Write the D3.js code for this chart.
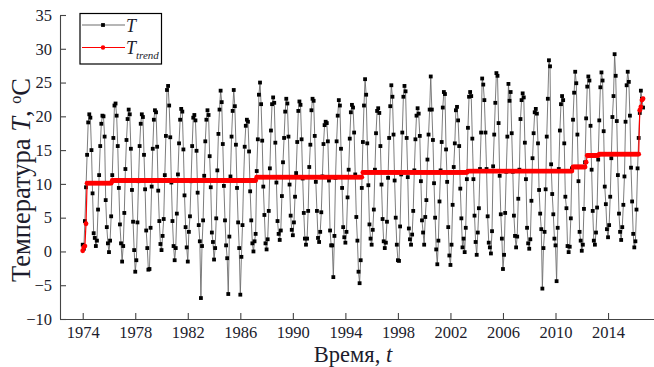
<!DOCTYPE html>
<html><head><meta charset="utf-8">
<script src="https://cdn.jsdelivr.net/npm/d3@7"></script>
<style>html,body{margin:0;padding:0;background:#fff;} svg{display:block;}</style>
</head><body><svg id="chart" width="654" height="367"></svg>
<script>
// ---- data ----
const xTicks = [1974, 1978, 1982, 1986, 1990, 1994, 1998, 2002, 2006, 2010, 2014];
const yTicks = [-10, -5, 0, 5, 10, 15, 20, 25, 30, 35];
const startYear = 1974; // monthly series starting January 1974
const tValues = [
  1.0, 0.4, 4.5, 9.5, 14.3, 19.1, 20.3, 19.8, 15.0, 8.6, 2.7, 2.0,      // 1974
  0.8, 1.6, 6.2, 11.3, 15.6, 18.9, 20.1, 20.0, 17.0, 7.6, 3.6, 1.2,     // 1975
  -0.1, 1.6, 5.2, 11.3, 16.8, 21.6, 21.9, 20.1, 15.6, 9.4, 4.0, 1.2,    // 1976
  -1.5, 0.8, 5.7, 12.2, 16.5, 19.6, 21.0, 20.3, 15.2, 9.1, 4.4, 0.2,    // 1977
  -3.0, -1.3, 4.3, 10.4, 15.6, 18.9, 20.3, 19.9, 14.3, 9.2, 3.1, 0.5,   // 1978
  -2.7, -2.6, 3.5, 9.6, 15.2, 19.5, 20.9, 20.6, 15.5, 9.0, 4.5, 1.1,    // 1979
  0.2, 2.3, 4.8, 11.3, 17.1, 23.9, 24.5, 21.6, 16.9, 10.2, 4.5, 0.8,    // 1980
  -1.3, 0.5, 5.6, 11.4, 16.0, 19.5, 21.1, 20.7, 15.1, 8.3, 3.6, 0.6,    // 1981
  -1.5, 2.9, 5.2, 10.4, 15.6, 19.8, 20.2, 19.4, 14.9, 8.7, 3.9, 1.5,    // 1982
  -6.9, 0.8, 4.6, 11.2, 16.3, 19.5, 20.9, 20.2, 14.1, 9.5, 2.8, 1.4,    // 1983
  -1.2, 0.5, 4.9, 12.0, 17.4, 21.0, 23.8, 22.1, 15.9, 9.7, 4.6, 0.9,    // 1984
  -1.0, -6.3, 2.2, 11.1, 17.0, 20.8, 23.9, 21.5, 15.8, 9.4, 4.3, 0.5,   // 1985
  -6.4, -0.8, 3.9, 10.5, 15.5, 18.6, 19.5, 19.2, 14.8, 8.9, 4.6, 1.2,   // 1986
  0.0, 1.5, 2.6, 11.9, 16.6, 23.2, 25.0, 21.8, 16.4, 9.6, 5.4, 1.2,     // 1987
  0.3, 1.8, 6.0, 12.3, 17.9, 21.8, 22.8, 22.0, 16.1, 10.2, 4.5, 2.6,    // 1988
  1.7, 3.1, 8.2, 13.2, 16.8, 20.7, 22.6, 21.9, 17.0, 9.9, 5.3, 3.2,     // 1989
  2.4, 4.3, 8.1, 11.6, 16.2, 20.8, 22.2, 21.7, 16.6, 10.8, 5.7, 1.9,    // 1990
  1.0, 1.9, 6.0, 12.5, 15.8, 20.9, 22.6, 22.3, 17.1, 10.3, 6.0, 2.0,    // 1991
  1.4, 2.9, 5.8, 11.1, 15.9, 18.7, 19.2, 19.0, 16.3, 10.5, 3.1, 0.9,    // 1992
  0.9, -3.8, 2.3, 10.9, 16.3, 20.1, 22.4, 21.6, 15.2, 9.4, 3.6, 2.1,    // 1993
  1.3, 2.9, 8.0, 12.1, 16.7, 20.6, 21.7, 21.3, 17.6, 11.4, 5.1, 1.6,    // 1994
  -3.0, -4.7, -1.3, 9.4, 16.2, 21.6, 25.5, 23.2, 16.0, 9.8, 4.0, 1.9,   // 1995
  1.0, 3.2, 6.2, 12.1, 17.5, 20.8, 21.2, 20.5, 15.6, 9.9, 4.8, 1.5,     // 1996
  0.5, 1.3, 4.4, 10.9, 16.8, 21.5, 24.6, 22.9, 17.3, 10.5, 5.0, 1.0,    // 1997
  -1.3, -1.4, 3.7, 11.4, 17.6, 22.9, 24.5, 23.7, 16.8, 11.0, 3.4, 1.8,  // 1998
  1.0, 2.5, 6.0, 12.0, 16.6, 20.1, 21.2, 20.4, 17.1, 10.4, 4.6, 2.8,    // 1999
  1.0, 5.1, 7.6, 13.6, 17.3, 21.0, 25.9, 21.0, 16.5, 10.1, 5.0, 0.3,    // 2000
  -1.9, 1.6, 7.4, 12.0, 16.2, 21.3, 23.6, 23.3, 15.1, 10.3, 3.6, -0.6,  // 2001
  -2.0, 1.0, 6.9, 12.5, 16.0, 20.9, 21.4, 19.4, 15.6, 9.3, 4.9, 0.6,    // 2002
  1.9, -0.1, 3.5, 10.7, 18.3, 22.9, 23.6, 23.0, 16.7, 10.7, 5.3, 1.4,   // 2003
  -0.5, 2.8, 6.4, 12.2, 17.6, 25.6, 24.7, 22.4, 17.6, 12.2, 5.2, 1.3,   // 2004
  0.6, -0.3, 3.0, 12.6, 17.3, 22.0, 26.4, 26.0, 19.0, 11.2, 5.5, 1.9,   // 2005
  -2.6, -0.5, 5.7, 11.8, 17.0, 24.8, 22.3, 23.6, 17.5, 11.8, 5.3, 2.3,  // 2006
  0.6, 2.2, 7.8, 12.1, 19.6, 22.4, 23.4, 22.8, 16.1, 10.7, 3.5, 1.2,    // 2007
  0.4, 1.8, 7.5, 13.8, 17.5, 20.6, 21.1, 20.4, 16.0, 9.1, 5.6, 3.3,     // 2008
  -5.5, 0.5, 2.9, 9.2, 17.0, 22.6, 28.3, 27.4, 12.9, 8.5, 5.5, 1.9,     // 2009
  0.9, -4.4, 3.5, 12.2, 17.9, 21.8, 23.0, 22.4, 16.0, 8.1, 6.4, 0.8,    // 2010
  -0.1, 0.7, 4.9, 12.3, 19.5, 23.5, 26.6, 24.9, 17.3, 10.4, 2.9, 1.6,   // 2011
  0.1, 1.0, 6.3, 13.2, 19.7, 24.4, 25.9, 25.3, 18.6, 12.1, 6.0, 1.6,    // 2012
  1.0, 2.8, 6.5, 13.6, 19.4, 24.3, 26.5, 25.3, 17.8, 9.6, 7.0, 3.3,     // 2013
  2.1, 3.9, 8.1, 13.8, 19.9, 23.0, 29.2, 26.0, 19.3, 11.3, 5.6, 2.9,    // 2014
  1.7, 3.6, 6.9, 11.1, 19.2, 24.6, 26.6, 25.1, 20.1, 12.4, 7.4, 2.6,    // 2015
  0.6, 1.5, 6.2, 12.3, 16.8, 20.5, 23.8, 22.6, 21.3                     // 2016
];
// piecewise-constant trend: level values and number of months each level lasts
const trendLevels = [0.1, 0.6, 0.8, 4.1, 10.1, 10.5, 11.0, 11.7, 11.9, 12.5, 13.2, 14.2, 14.4, 20.9, 21.4, 22.4, 22.6];
const trendRuns   = [1,   1,   1,   1,   23,   132,  97,   96,   96,   12,   1,    11,   37,   1,    1,    1,    1];

// ---- build ----
const series = tValues.map((v, i) => ({ t: startYear + i / 12, v }));
const trendFlat = [];
trendLevels.forEach((lv, k) => { for (let j = 0; j < trendRuns[k]; j++) trendFlat.push(lv); });
const trend = trendFlat.map((v, i) => ({ t: startYear + i / 12, v }));

const svg = d3.select("#chart");
const serif = "'Liberation Serif','Times New Roman',serif";
const textColor = "#1c1c2c";
const x = d3.scaleLinear().domain([1972.27, 2017.5]).range([60, 654]);
const y = d3.scaleLinear().domain([-10, 35]).range([319, 15]);

// axes
const xAxis = svg.append("g").attr("transform", "translate(0,319)")
  .call(d3.axisBottom(x).tickValues(xTicks).tickFormat(d3.format("d")).tickSize(-6).tickSizeOuter(0).tickPadding(7.5));
const yAxis = svg.append("g").attr("transform", "translate(60,0)")
  .call(d3.axisLeft(y).tickValues(yTicks).tickSize(-6).tickSizeOuter(0).tickPadding(8));
[xAxis, yAxis].forEach(a => {
  a.select(".domain").attr("stroke", "#444").attr("stroke-width", 1.1);
  a.selectAll(".tick line").attr("stroke", "#444").attr("stroke-width", 1.1);
  a.selectAll(".tick text").attr("font-family", serif).attr("font-size", 16.5).attr("fill", textColor);
});

// T series
const line = d3.line().x(d => x(d.t)).y(d => y(d.v));
svg.append("path").datum(series).attr("d", line)
  .attr("fill", "none").attr("stroke", "#6e6e6e").attr("stroke-width", 0.9);
const sq = 3.8;
svg.append("g").selectAll("rect").data(series).join("rect")
  .attr("x", d => x(d.t) - sq / 2).attr("y", d => y(d.v) - sq / 2)
  .attr("width", sq).attr("height", sq).attr("fill", "#000");

// trend
svg.append("path").datum(trend).attr("d", line)
  .attr("fill", "none").attr("stroke", "#ff0000").attr("stroke-width", 1.2);
svg.append("g").selectAll("circle").data(trend).join("circle")
  .attr("cx", d => x(d.t)).attr("cy", d => y(d.v)).attr("r", 2.4).attr("fill", "#ff0000");

// axis titles
const yl = svg.append("text").attr("transform", "translate(30,180) rotate(-90)")
  .attr("text-anchor", "middle").attr("font-family", serif).attr("font-size", 26.5).attr("fill", textColor);
yl.append("tspan").text("Температура ");
yl.append("tspan").attr("font-style", "italic").text("T");
yl.append("tspan").text(", ");
yl.append("tspan").attr("font-size", 16).attr("dy", -9.5).text("o");
yl.append("tspan").attr("dy", 9.5).text("C");

const xl = svg.append("text").attr("x", 353).attr("y", 362)
  .attr("text-anchor", "middle").attr("font-family", serif).attr("font-size", 22.5).attr("fill", textColor);
xl.append("tspan").text("Время, ");
xl.append("tspan").attr("font-style", "italic").text("t");

// legend
const lg = svg.append("g");
lg.append("rect").attr("x", 80).attr("y", 13.5).attr("width", 81.5).attr("height", 50.5)
  .attr("fill", "#fff").attr("stroke", "#000").attr("stroke-width", 1.2);
lg.append("line").attr("x1", 82).attr("x2", 125).attr("y1", 25).attr("y2", 25).attr("stroke", "#6e6e6e").attr("stroke-width", 1.2);
lg.append("rect").attr("x", 103 - sq / 2).attr("y", 25 - sq / 2).attr("width", sq).attr("height", sq).attr("fill", "#000");
lg.append("text").attr("x", 126).attr("y", 31.5).attr("font-family", serif).attr("font-style", "italic")
  .attr("font-size", 18).attr("fill", textColor).text("T");
lg.append("line").attr("x1", 82).attr("x2", 125).attr("y1", 47.5).attr("y2", 47.5).attr("stroke", "#ff0000").attr("stroke-width", 1.2);
lg.append("circle").attr("cx", 103).attr("cy", 47.5).attr("r", 2.2).attr("fill", "#ff0000");
const lt = lg.append("text").attr("x", 126).attr("y", 53.5).attr("font-family", serif).attr("font-style", "italic")
  .attr("font-size", 18).attr("fill", textColor);
lt.append("tspan").text("T");
lt.append("tspan").attr("font-size", 11).attr("dy", 5).attr("dx", 0).text("trend");
</script>
</body></html>
